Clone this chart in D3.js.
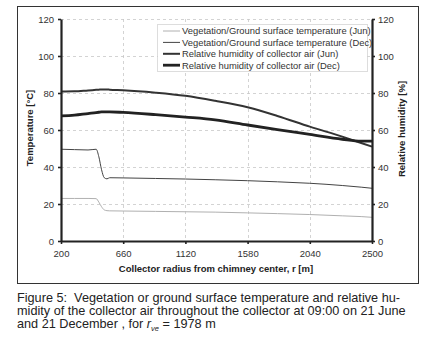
<!DOCTYPE html>
<html>
<head>
<meta charset="utf-8">
<script src="https://cdn.jsdelivr.net/npm/d3@7"></script>
<style>
  body { margin: 0; background: #fff; }
  svg { display: block; font-family: 'Liberation Sans', Arial, sans-serif; }
</style>
</head>
<body>
<script>
// Values
const radius = [200, 300, 400, 460, 480, 500, 520, 540, 560, 660, 900, 1120, 1340, 1580, 1800, 2040, 2280, 2420, 2500];
const vegJun = [23, 23, 23, 22.9, 21, 18.5, 16.8, 16.4, 16.3, 16.2, 16.0, 15.8, 15.6, 15.2, 14.8, 14.3, 13.6, 13.2, 12.8];
const vegDec = [49.6, 49.4, 49.2, 49.6, 45.5, 38.5, 34.2, 33.6, 34.2, 34.1, 33.8, 33.5, 33.1, 32.6, 32.0, 31.2, 30.0, 29.1, 28.5];
const rhJun = [80.8, 80.9, 81.4, 81.7, 81.8, 81.9, 81.9, 81.9, 81.8, 81.5, 80.2, 78.5, 75.8, 72.3, 67.6, 61.8, 56.4, 53, 51];
const rhDec = [67.6, 68, 68.9, 69.4, 69.6, 69.8, 69.8, 69.8, 69.8, 69.5, 68.3, 67, 65.5, 62.7, 60.2, 57.6, 55, 54, 54];

const xTicks = [200, 660, 1120, 1580, 2040, 2500];
const yTicks = [0, 20, 40, 60, 80, 100, 120];

const legendLabels = [
    'Vegetation/Ground surface temperature (Jun)',
    'Vegetation/Ground surface temperature (Dec)',
    'Relative humidity of collector air (Jun)',
    'Relative humidity of collector air (Dec)',
];

const series = [
    { values: vegJun, color: '#b0b0b0', width: 1, axis: 'left' },
    { values: vegDec, color: '#444', width: 1, axis: 'left' },
    { values: rhJun, color: '#333', width: 2, axis: 'right' },
    { values: rhDec, color: '#222', width: 2.8, axis: 'right' },
];

const W = 422, H = 344;
const plot = { left: 61, right: 372, top: 19, bottom: 241 };

const svg = d3.select('body').append('svg').attr('width', W).attr('height', H);

// outer frame
svg.append('rect')
    .attr('x', 17.5).attr('y', 6.5)
    .attr('width', 401).attr('height', 277)
    .attr('fill', 'none').attr('stroke', '#333').attr('stroke-width', 1);

const x = d3.scaleLinear().domain([200, 2500]).range([plot.left, plot.right]);
const yL = d3.scaleLinear().domain([0, 120]).range([plot.bottom, plot.top]);
const yR = d3.scaleLinear().domain([0, 120]).range([plot.bottom, plot.top]);

// grid
const grid = svg.append('g').attr('stroke', '#c8c8c8').attr('stroke-width', 0.8).attr('stroke-dasharray', '3,3');
grid.selectAll('.gy').data(yTicks.filter((d) => d > 0)).join('line')
    .attr('x1', plot.left).attr('x2', plot.right)
    .attr('y1', (d) => Math.round(yL(d)) + 0.5).attr('y2', (d) => Math.round(yL(d)) + 0.5);
grid.selectAll('.gx').data(xTicks.slice(1, -1)).join('line')
    .attr('x1', (d) => Math.round(x(d)) + 0.5).attr('x2', (d) => Math.round(x(d)) + 0.5)
    .attr('y1', plot.top).attr('y2', plot.bottom);

// series lines
const line = (vals, yScale) => d3.line()
    .x((d, i) => x(radius[i]))
    .y((d) => yScale(d))
    .curve(d3.curveMonotoneX)(vals);

series.forEach((s) => {
    svg.append('path')
        .attr('d', line(s.values, s.axis === 'left' ? yL : yR))
        .attr('fill', 'none')
        .attr('stroke', s.color)
        .attr('stroke-width', s.width)
        .attr('stroke-linejoin', 'round');
});

// axes
function styleAxis(g) {
    g.select('.domain').attr('stroke', '#222').attr('stroke-width', 2.2);
    g.selectAll('.tick line').attr('stroke', '#222').attr('stroke-width', 1.6);
    g.selectAll('.tick text').attr('fill', '#333').style('font-size', '9.5px');
}

svg.append('g')
    .attr('transform', `translate(${plot.left},0)`)
    .call(d3.axisLeft(yL).tickValues(yTicks).tickSize(3).tickSizeOuter(0).tickPadding(4))
    .call(styleAxis);

svg.append('g')
    .attr('transform', `translate(${plot.right},0)`)
    .call(d3.axisRight(yR).tickValues(yTicks).tickSize(3).tickSizeOuter(0).tickPadding(3))
    .call(styleAxis);

svg.append('g')
    .attr('transform', `translate(0,${plot.bottom})`)
    .call(d3.axisBottom(x).tickValues(xTicks).tickFormat(d3.format('d')).tickSize(3).tickSizeOuter(0).tickPadding(6))
    .call(styleAxis);

// axis titles
svg.append('text')
    .attr('transform', `translate(33,128) rotate(-90)`)
    .attr('text-anchor', 'middle')
    .style('font-size', '9.5px').style('font-weight', 'bold').attr('fill', '#222')
    .text('Temperature [°C]');

svg.append('text')
    .attr('transform', `translate(405,129) rotate(-90)`)
    .attr('text-anchor', 'middle')
    .style('font-size', '9.5px').style('font-weight', 'bold').attr('fill', '#222')
    .text('Relative humidity [%]');

svg.append('text')
    .attr('x', 216).attr('y', 272)
    .attr('text-anchor', 'middle')
    .style('font-size', '9.5px').style('font-weight', 'bold').attr('fill', '#222')
    .text('Collector radius from chimney center, r [m]');

// legend
const lg = svg.append('g').attr('transform', 'translate(157,24)');
lg.append('rect')
    .attr('x', 0.5).attr('y', 0.5).attr('width', 210).attr('height', 47)
    .attr('fill', '#fff').attr('stroke', '#aaa').attr('stroke-width', 0.8).attr('stroke-dasharray', '1,1');
legendLabels.forEach((lab, i) => {
    const yy = 7 + i * 11.4;
    lg.append('line')
        .attr('x1', 6).attr('x2', 23).attr('y1', yy).attr('y2', yy)
        .attr('stroke', series[i].color).attr('stroke-width', series[i].width);
    lg.append('text')
        .attr('x', 25).attr('y', yy + 3.3)
        .style('font-size', '9.4px').attr('fill', '#333')
        .text(lab);
});

// caption
const cap = svg.append('text').style('font-size', '12.7px').attr('fill', '#222');
cap.append('tspan').attr('x', 17).attr('y', 302)
    .text('Figure 5:\u00a0\u00a0Vegetation or ground surface temperature and relative hu-');
cap.append('tspan').attr('x', 17).attr('y', 315)
    .text('midity of the collector air throughout the collector at 09:00 on 21 June');
cap.append('tspan').attr('x', 17).attr('y', 328).text('and 21 December , for ');
cap.append('tspan').style('font-style', 'italic').text('r');
cap.append('tspan').attr('dy', 2.5).style('font-size', '7.5px').style('font-style', 'italic').text('ve');
cap.append('tspan').attr('dy', -2.5).text(' = 1978 m');
</script>
</body>
</html>
